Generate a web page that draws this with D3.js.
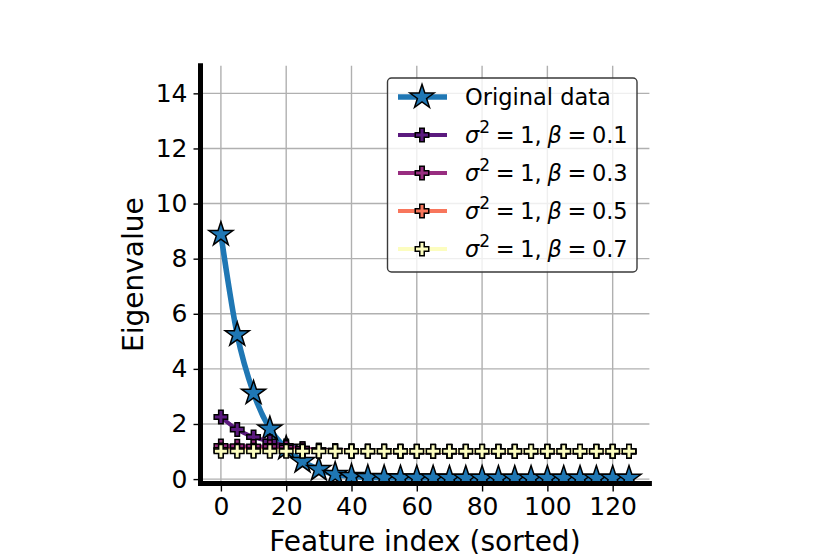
<!DOCTYPE html>
<html>
<head>
<meta charset="utf-8">
<script src="https://cdn.jsdelivr.net/npm/d3@7"></script>
<style>
  body { margin: 0; background: #fff; }
  svg { display: block; font-family: "DejaVu Sans", sans-serif; }
</style>
</head>
<body>
<div id="chart"></div>
<script>
// feature index of each marker (every 5th feature)
const featureIdx = [0, 5, 10, 15, 20, 25, 30, 35, 40, 45, 50, 55, 60, 65, 70, 75, 80, 85, 90, 95, 100, 105, 110, 115, 120, 125];

const original = [8.88, 5.24, 3.12, 1.82, 1.12, 0.64, 0.35, 0.17, 0.10, 0.06, 0.05, 0.04, 0.04, 0.04, 0.03, 0.03, 0.03, 0.03, 0.03, 0.03, 0.03, 0.03, 0.03, 0.03, 0.03, 0.03];
const beta01 = [2.25, 1.80, 1.53, 1.36, 1.20, 1.10, 1.05, 1.03, 1.02, 1.01, 1.01, 1.01, 1.00, 1.00, 1.00, 1.00, 1.00, 1.00, 1.00, 1.00, 1.00, 1.00, 1.00, 1.00, 1.00, 1.00];
const beta03 = [1.20, 1.19, 1.18, 1.17, 1.15, 1.10, 1.05, 1.03, 1.02, 1.01, 1.01, 1.00, 1.00, 1.00, 1.00, 1.00, 1.00, 1.00, 1.00, 1.00, 1.00, 1.00, 1.00, 1.00, 1.00, 1.00];
const beta05 = [1.06, 1.05, 1.05, 1.04, 1.04, 1.03, 1.02, 1.02, 1.01, 1.01, 1.01, 1.01, 1.01, 1.01, 1.01, 1.01, 1.01, 1.01, 1.01, 1.01, 1.01, 1.01, 1.01, 1.01, 1.01, 1.01];
const beta07 = [1.01, 1.01, 1.01, 1.01, 1.01, 1.01, 1.01, 1.01, 1.01, 1.01, 1.01, 1.01, 1.01, 1.01, 1.01, 1.01, 1.01, 1.01, 1.01, 1.01, 1.01, 1.01, 1.01, 1.01, 1.01, 1.01];

const betaNames = ["0.1", "0.3", "0.5", "0.7"];
const betaColors = ["#5b1a7e", "#982d80", "#f8765c", "#fcfdbf"];

const xTicks = [0, 20, 40, 60, 80, 100, 120];
const yTicks = [0, 2, 4, 6, 8, 10, 12, 14];

const width = 830, height = 554;
const x0 = 200.5, x1 = 649.4, y0 = 483.5, y1 = 65.8;

const svg = d3.select('#chart').append('svg')
  .attr('width', width)
  .attr('height', height);

const x = d3.scaleLinear().domain([-6.25, 131.25]).range([x0, x1]);
const y = d3.scaleLinear().domain([-0.16, 15]).range([y0, y1]);

svg.append('clipPath').attr('id', 'plot')
  .append('rect').attr('x', x0).attr('y', y1).attr('width', x1 - x0).attr('height', y0 - y1);

// grid
const grid = svg.append('g');
grid.selectAll('.gx').data(xTicks).enter().append('line')
  .attr('x1', d => x(d)).attr('x2', d => x(d)).attr('y1', y0).attr('y2', y1)
  .attr('stroke', '#b0b0b0').attr('stroke-width', 1.4);
grid.selectAll('.gy').data(yTicks).enter().append('line')
  .attr('x1', x0).attr('x2', x1).attr('y1', d => y(d)).attr('y2', d => y(d))
  .attr('stroke', '#b0b0b0').attr('stroke-width', 1.4);

// axes
const xAxis = svg.append('g').attr('transform', `translate(0,${y0})`)
  .call(d3.axisBottom(x).tickValues(xTicks).tickSize(8).tickPadding(6));
const yAxis = svg.append('g').attr('transform', `translate(${x0},0)`)
  .call(d3.axisLeft(y).tickValues(yTicks).tickSize(7).tickPadding(6));
[xAxis, yAxis].forEach(a => {
  a.select('.domain').remove();
  a.selectAll('line').attr('stroke', '#000').attr('stroke-width', 1.4);
  a.selectAll('text').attr('font-size', 25).attr('fill', '#000')
    .attr('font-family', '"DejaVu Sans", sans-serif');
});

const plot = svg.append('g').attr('clip-path', 'url(#plot)');

const star = d3.symbol(d3.symbolStar, 180);
const plus = d3.symbol(d3.symbolCross, 101);

function drawSeries(vals, color, lw, sym) {
  const pts = featureIdx.map((f, i) => [f, vals[i]]);
  plot.append('path').datum(pts)
    .attr('d', d3.line().x(d => x(d[0])).y(d => y(d[1])).curve(d3.curveMonotoneX))
    .attr('fill', 'none').attr('stroke', color).attr('stroke-width', lw)
    .attr('stroke-linejoin', 'round').attr('stroke-linecap', 'square');
  plot.selectAll(null).data(pts).enter().append('path')
    .attr('d', sym)
    .attr('transform', d => `translate(${x(d[0])},${y(d[1])})`)
    .attr('fill', color).attr('stroke', '#000').attr('stroke-width', 1.5)
    .attr('stroke-linejoin', 'miter');
}

drawSeries(original, '#1f77b4', 5.6, star);
[beta01, beta03, beta05, beta07].forEach((s, i) => drawSeries(s, betaColors[i], 4.2, plus));

// spines
svg.append('line').attr('x1', x0).attr('x2', x0).attr('y1', y1 - 2.5).attr('y2', y0 + 2.5)
  .attr('stroke', '#000').attr('stroke-width', 5);
svg.append('line').attr('x1', x0 - 2.5).attr('x2', x1 + 2.5).attr('y1', y0).attr('y2', y0)
  .attr('stroke', '#000').attr('stroke-width', 5);

// axis labels
svg.append('text').attr('x', (x0 + x1) / 2).attr('y', 551)
  .attr('text-anchor', 'middle').attr('font-size', 28).text('Feature index (sorted)');
svg.append('text').attr('transform', `translate(143,${(y0 + y1) / 2}) rotate(-90)`)
  .attr('text-anchor', 'middle').attr('font-size', 28).text('Eigenvalue');

// legend
const lg = svg.append('g');
lg.append('rect').attr('x', 387.5).attr('y', 78).attr('width', 249.5).attr('height', 194)
  .attr('rx', 4).attr('fill', '#fff').attr('fill-opacity', 0.8)
  .attr('stroke', '#3a3a3a').attr('stroke-width', 1.4);

const rowY = [97, 135, 173, 211, 249];
const entries = [{ color: '#1f77b4', lw: 5.6, sym: star, label: null }]
  .concat(betaNames.map((b, i) => ({ color: betaColors[i], lw: 4.2, sym: plus, label: b })));

entries.forEach((e, i) => {
  const g = lg.append('g').attr('transform', `translate(0,${rowY[i]})`);
  g.append('line').attr('x1', 398).attr('x2', 447).attr('y1', 0).attr('y2', 0)
    .attr('stroke', e.color).attr('stroke-width', e.lw);
  g.append('path').attr('d', e.sym).attr('transform', 'translate(422,0)')
    .attr('fill', e.color).attr('stroke', '#000').attr('stroke-width', 1.5);
  const t = g.append('text').attr('x', 465).attr('y', 8).attr('font-size', 22.5);
  if (e.label === null) {
    t.text('Original data');
  } else {
    t.attr('word-spacing', -1.5);
    t.append('tspan').attr('font-style', 'italic').text('σ');
    t.append('tspan').attr('font-size', 17).attr('dy', -10).text('2');
    t.append('tspan').attr('dy', 10).text(' = 1, ');
    t.append('tspan').attr('font-style', 'italic').text('β');
    t.append('tspan').text(' = ' + e.label);
  }
});
</script>
</body>
</html>
